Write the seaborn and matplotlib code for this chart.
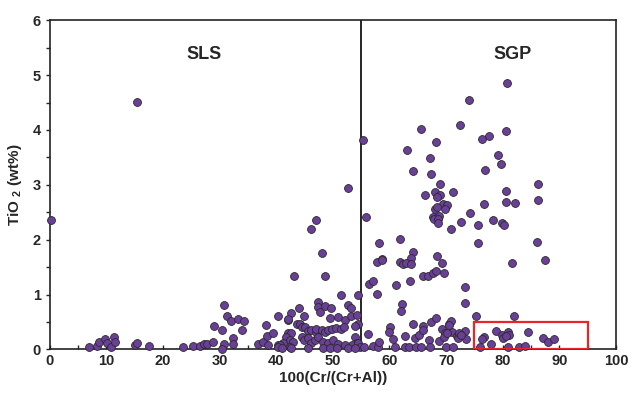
import numpy as np
import pandas as pd
import matplotlib
matplotlib.use("Agg")
import matplotlib.pyplot as plt
from matplotlib.patches import Rectangle
from matplotlib.ticker import MultipleLocator
import seaborn as sns

sns.set_style("ticks")
plt.rcParams['font.family'] = ['Liberation Sans', 'DejaVu Sans']
plt.rcParams['mathtext.fontset'] = 'custom'
plt.rcParams['mathtext.bf'] = 'Liberation Sans:bold'

# values: 100(Cr/(Cr+Al)) and TiO2 (wt%)
sls_cr = [0.3, 15.4, 52.7, 47.1, 46.1, 48.1, 43.1, 48.7, 51.5, 54.4,
          7.0, 8.4, 8.7, 9.8, 10.1, 10.8, 11.4, 11.6, 15.0, 15.4, 17.6, 23.5, 25.3, 26.5, 27.2, 27.7, 28.9,
          30.7, 31.3, 32.0, 33.3, 34.3, 33.9, 29.1, 30.5, 32.4, 32.4, 30.7, 30.5,
          38.2, 36.7, 37.6, 38.4, 39.4, 38.6, 40.4, 40.4,
          42.1, 42.7, 44.0, 44.9, 47.4, 47.4, 47.7, 48.6, 49.6, 49.5, 50.9, 52.1, 53.2, 52.7, 53.2, 54.2, 54.5,
          43.6, 44.2, 44.5, 45.1,
          45.6, 46.1, 47.0, 47.1, 48.0, 48.6, 49.2, 49.8, 50.5, 51.5, 51.9,
          42.1, 42.7, 41.8, 42.4, 43.0, 41.2, 40.7, 40.4, 42.4,
          44.5, 44.9, 45.6, 46.2, 46.8, 47.4, 48.3, 49.1, 50.1, 51.0, 52.1,
          53.9, 54.2, 53.3, 54.5, 54.8,
          41.0, 42.7, 45.6, 48.3, 49.5, 50.7, 52.7, 53.9,
          42.0, 54.0]
sls_ti = [2.35, 4.51, 2.95, 2.36, 2.19, 1.75, 1.34, 1.34, 0.99, 1.00,
          0.04, 0.07, 0.14, 0.19, 0.12, 0.05, 0.22, 0.14, 0.08, 0.11, 0.07, 0.04, 0.06, 0.07, 0.10, 0.09, 0.13,
          0.81, 0.61, 0.52, 0.55, 0.52, 0.36, 0.43, 0.35, 0.21, 0.09, 0.10, 0.01,
          0.44, 0.10, 0.14, 0.25, 0.29, 0.08, 0.61, 0.08,
          0.53, 0.67, 0.75, 0.61, 0.87, 0.78, 0.69, 0.79, 0.75, 0.58, 0.59, 0.53, 0.61, 0.81, 0.75, 0.63, 0.47,
          0.46, 0.47, 0.40, 0.41,
          0.33, 0.35, 0.31, 0.37, 0.35, 0.31, 0.36, 0.37, 0.39, 0.38, 0.41,
          0.30, 0.30, 0.23, 0.17, 0.14, 0.11, 0.08, 0.05, 0.04,
          0.23, 0.17, 0.20, 0.11, 0.17, 0.23, 0.14, 0.11, 0.17, 0.10, 0.08,
          0.23, 0.11, 0.08, 0.12, 0.04,
          0.02, 0.02, 0.02, 0.02, 0.02, 0.02, 0.02, 0.02,
          0.55, 0.43]

sgp_cr = [80.7, 74.0, 65.6, 72.5, 80.5, 55.4, 68.2, 76.4, 77.6, 63.1, 67.2, 79.2, 79.7, 64.2, 67.3, 76.8,
          69.0, 66.3, 68.1, 68.9, 71.3, 68.4, 80.5, 86.3, 86.3, 80.6, 82.1, 76.7, 69.5, 70.2, 68.0, 68.4, 69.8,
          67.7, 68.7, 67.8, 68.5, 68.6, 74.3, 72.6, 75.6, 78.3, 79.8, 80.2, 70.9, 55.8, 58.2, 61.8, 64.2, 75.7,
          86.1, 58.7, 63.8, 68.4,
          81.7, 69.2, 87.4, 57.8, 58.7, 61.8, 62.4, 63.0, 63.8,
          65.9, 66.8, 67.6, 68.2, 69.6, 63.6, 61.2, 56.3, 57.1, 57.8, 62.2, 62.0, 73.3, 73.3, 75.2, 82.0,
          56.2, 60.1, 59.9, 60.6, 62.7, 64.1, 64.5, 65.2, 65.9, 65.9, 67.3, 68.3, 67.0, 68.7, 69.2, 69.8, 69.6,
          70.5, 70.8, 71.1, 72.0, 72.1, 73.3, 73.5, 70.6, 70.2, 72.2, 72.6,
          55.5, 57.1, 58.0, 58.1, 60.9, 62.7, 63.5, 64.6, 65.6, 67.1, 70.0, 71.2,
          76.7, 76.4, 78.9, 78.0, 76.0, 79.8, 80.0, 80.9, 81.1, 80.6, 81.0, 82.9, 84.0, 84.4, 87.1, 88.0, 89.0]
sgp_ti = [4.86, 4.54, 4.01, 4.09, 3.98, 3.82, 3.78, 3.84, 3.89, 3.64, 3.48, 3.55, 3.38, 3.26, 3.19, 3.27,
          3.01, 2.81, 2.86, 2.82, 2.87, 2.77, 2.88, 3.02, 2.72, 2.69, 2.66, 2.65, 2.65, 2.63, 2.55, 2.59, 2.55,
          2.42, 2.43, 2.38, 2.37, 2.30, 2.49, 2.32, 2.27, 2.35, 2.30, 2.27, 2.19, 2.41, 1.93, 2.02, 1.78, 1.94,
          1.96, 1.65, 1.67, 1.71,
          1.57, 1.58, 1.62, 1.59, 1.63, 1.59, 1.56, 1.57, 1.56,
          1.33, 1.34, 1.39, 1.42, 1.39, 1.25, 1.17, 1.20, 1.25, 1.01, 0.83, 0.70, 1.14, 0.84, 0.61, 0.61,
          0.28, 0.41, 0.32, 0.18, 0.24, 0.46, 0.20, 0.26, 0.43, 0.35, 0.50, 0.57, 0.17, 0.16, 0.38, 0.29, 0.22,
          0.46, 0.52, 0.32, 0.24, 0.20, 0.34, 0.18, 0.44, 0.29, 0.29, 0.26,
          0.05, 0.06, 0.05, 0.14, 0.05, 0.05, 0.05, 0.05, 0.05, 0.05, 0.05, 0.05,
          0.22, 0.18, 0.34, 0.09, 0.04, 0.26, 0.20, 0.32, 0.26, 0.24, 0.05, 0.05, 0.06, 0.32, 0.20, 0.14, 0.19]

df = pd.DataFrame({'cr': sls_cr + sgp_cr, 'ti': sls_ti + sgp_ti})

fig = plt.figure(figsize=(6.37, 3.97), dpi=100)
ax = fig.add_axes([0.078, 0.12, 0.889, 0.829])

sns.scatterplot(data=df, x='cr', y='ti', ax=ax, s=32, color='#6a3f98',
                edgecolor='#2a2a2a', linewidth=0.6, zorder=3, clip_on=False)

# boundary between fields and the highlighted box
ax.plot([55, 55], [0, 6], color='black', lw=1.2, zorder=2)
ax.add_patch(Rectangle((75, 0), 20, 0.5, fill=False, edgecolor='#e8262a', lw=1.6, zorder=4))

ax.text(27.2, 5.37, 'SLS', fontsize=13, fontweight='bold', ha='center', va='center')
ax.text(81.7, 5.37, 'SGP', fontsize=13, fontweight='bold', ha='center', va='center')

ax.set_xlim(0, 100)
ax.set_ylim(0, 6)
ax.xaxis.set_major_locator(MultipleLocator(10))
ax.xaxis.set_minor_locator(MultipleLocator(5))
ax.yaxis.set_major_locator(MultipleLocator(1))
ax.yaxis.set_minor_locator(MultipleLocator(0.5))
ax.tick_params(axis='x', which='both', direction='in', length=3, width=1)
ax.tick_params(axis='y', which='both', direction='out', length=3, width=1)
ax.tick_params(labelsize=10.5)
for lab in ax.get_xticklabels() + ax.get_yticklabels():
    lab.set_fontweight('bold')
for sp in ax.spines.values():
    sp.set_linewidth(1.2)
    sp.set_color('#222222')

ax.set_xlabel('100(Cr/(Cr+Al))', fontsize=11, fontweight='bold', labelpad=2)
ax.set_ylabel(r'TiO $_{\mathbf{2}}$ (wt%)', fontsize=11, fontweight='bold', labelpad=6)

fig.savefig('out.png', dpi=100)
